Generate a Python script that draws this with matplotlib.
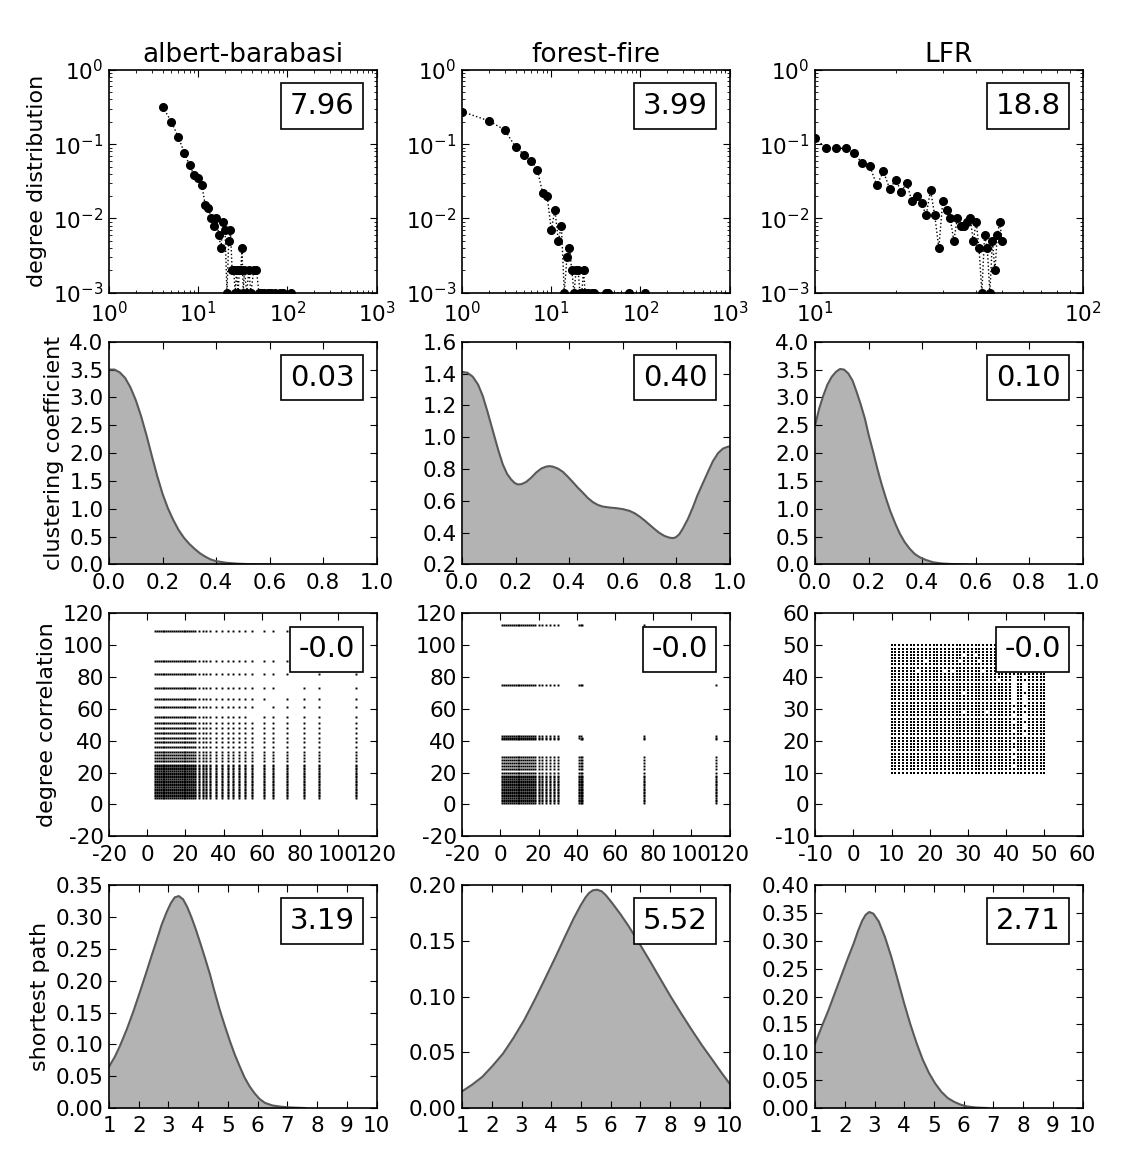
import matplotlib
matplotlib.use('Agg')
import matplotlib.pyplot as plt
import numpy as np
import matplotlib.ticker as ticker
from matplotlib.offsetbox import AnchoredText

# column titles and the mean values shown in the boxes
models = ['albert-barabasi', 'forest-fire', 'LFR']
row_labels = ['degree distribution', 'clustering coefficient', 'degree correlation', 'shortest path']
box_text = [['7.96', '3.99', '18.8'],
            ['0.03', '0.40', '0.10'],
            ['-0.0', '-0.0', '-0.0'],
            ['3.19', '5.52', '2.71']]

# degree distribution (node counts out of 1000)
ab_deg = [4, 5, 6, 7, 8, 9, 10, 11, 12, 13, 14, 15, 16, 17, 18, 19, 20, 21, 22, 23, 24, 25,
          26, 27, 28, 29, 30, 31, 32, 33, 35, 37, 39, 42, 45, 48, 51, 55, 61, 66, 73, 82, 90, 109]
ab_cnt = [320, 200, 124, 76, 52, 38, 35, 28, 15, 14, 10, 8, 10, 6, 4, 9, 7, 1, 5, 7, 2, 2,
          1, 2, 1, 2, 2, 4, 1, 2, 1, 2, 1, 2, 2, 1, 1, 1, 1, 1, 1, 1, 1, 1]
ff_deg = [1, 2, 3, 4, 5, 6, 7, 8, 9, 10, 11, 12, 13, 14, 15, 16, 17, 18, 19, 20, 21, 22,
          23, 24, 26, 29, 30, 41, 42, 43, 75, 113]
ff_cnt = [275, 206, 156, 91, 72, 60, 45, 22, 20, 7, 13, 5, 8, 1, 3, 4, 2, 1, 2, 2, 1, 1,
          2, 1, 1, 1, 1, 1, 1, 1, 1, 1]
lfr_deg = list(range(10, 51))
lfr_cnt = [120, 88, 88, 88, 76, 55, 51, 28, 43, 25, 33, 23, 30, 17, 20, 16, 11, 24, 11, 4, 17,
           13, 10, 5, 10, 8, 8, 9, 10, 5, 9, 4, 1, 6, 4, 1, 5, 2, 6, 9, 5]

# clustering coefficient density curves
ab_cc_x = [0.00, 0.02, 0.04, 0.06, 0.08, 0.10, 0.12, 0.14, 0.16, 0.18, 0.20, 0.22, 0.24,
           0.26, 0.28, 0.30, 0.32, 0.34, 0.36, 0.38, 0.40, 0.44, 0.48, 0.52, 0.56, 0.60]
ab_cc_y = [3.50, 3.50, 3.45, 3.35, 3.18, 2.95, 2.66, 2.32, 1.95, 1.59, 1.27, 1.01, 0.80,
           0.62, 0.48, 0.37, 0.28, 0.20, 0.14, 0.09, 0.06, 0.03, 0.015, 0.007, 0.003, 0.0]
ff_cc_x = [0.00, 0.02, 0.04, 0.06, 0.077, 0.095, 0.115, 0.135, 0.152, 0.168, 0.183, 0.196,
           0.208, 0.222, 0.239, 0.258, 0.277, 0.296, 0.314, 0.327, 0.339, 0.358, 0.377, 0.395,
           0.414, 0.432, 0.451, 0.47, 0.489, 0.508, 0.526, 0.551, 0.576, 0.601, 0.626, 0.645,
           0.663, 0.682, 0.70, 0.72, 0.738, 0.757, 0.776, 0.79, 0.80, 0.812, 0.825, 0.844,
           0.863, 0.88, 0.90, 0.92, 0.938, 0.957, 0.975, 0.99, 1.0]
ff_cc_y = [1.41, 1.405, 1.38, 1.33, 1.26, 1.16, 1.04, 0.92, 0.83, 0.77, 0.735, 0.713,
           0.703, 0.705, 0.718, 0.745, 0.778, 0.803, 0.815, 0.818, 0.815, 0.803, 0.782, 0.752,
           0.718, 0.684, 0.652, 0.618, 0.592, 0.574, 0.564, 0.558, 0.554, 0.548, 0.537, 0.522,
           0.502, 0.477, 0.451, 0.422, 0.398, 0.379, 0.368, 0.366, 0.372, 0.39, 0.425, 0.485,
           0.56, 0.635, 0.71, 0.785, 0.85, 0.9, 0.928, 0.938, 0.942]
lfr_cc_x = [0.0, 0.015, 0.031, 0.046, 0.062, 0.078, 0.093, 0.108, 0.124, 0.14, 0.155, 0.17,
            0.186, 0.2, 0.217, 0.232, 0.248, 0.264, 0.28, 0.3, 0.317, 0.335, 0.354, 0.372,
            0.391, 0.415, 0.441, 0.47, 0.503, 0.53, 0.565]
lfr_cc_y = [2.50, 2.80, 3.04, 3.23, 3.37, 3.46, 3.51, 3.50, 3.43, 3.30, 3.10, 2.88,
            2.62, 2.33, 2.02, 1.73, 1.45, 1.20, 0.97, 0.73, 0.55, 0.40, 0.28, 0.19,
            0.13, 0.08, 0.04, 0.02, 0.01, 0.004, 0.0]

# degree correlation: degrees that show up as rows/columns of the scatter
ab_low = list(range(4, 26)) + [27, 29, 31, 33, 36, 39, 42, 45, 48, 51]
ab_hub = [55, 61, 66, 73, 82, 90, 109]
ff_low = list(range(1, 19)) + [20, 22, 24, 26, 28, 30]
ff_hub = [41, 42, 43, 75, 113]
lfr_corr_deg = list(range(10, 51))
lfr_gap_x = [19, 17, 24, 26, 28, 29, 32, 33, 34, 29, 29, 35, 38,
             42, 42, 42, 42, 42, 42, 42, 42, 42, 42, 42, 42, 42, 42, 42, 42, 42,
             45, 45, 45, 45, 45, 45, 45, 45, 45, 45, 45, 45, 45]
lfr_gap_y = [45, 42, 42, 42, 45, 47, 47, 45, 42, 35, 29, 29, 39,
             12, 15, 17, 20, 23, 26, 28, 30, 32, 33, 34, 35, 36, 37, 38, 39, 40,
             22, 24, 25, 27, 28, 30, 32, 33, 34, 36, 37, 38, 40]

# shortest path length density curves
ab_sp_x = [1.0, 1.2, 1.37, 1.6, 1.82, 2.05, 2.26, 2.43, 2.60, 2.77, 2.94, 3.08, 3.21, 3.35,
           3.49, 3.63, 3.77, 3.91, 4.05, 4.22, 4.39, 4.55, 4.72, 4.89, 5.06, 5.23, 5.40,
           5.56, 5.73, 5.9, 6.07, 6.25, 6.5, 6.8, 7.07, 7.6]
ab_sp_y = [0.065, 0.081, 0.098, 0.124, 0.152, 0.184, 0.214, 0.239, 0.263, 0.288, 0.308,
           0.322, 0.331, 0.333, 0.328, 0.316, 0.300, 0.282, 0.262, 0.237, 0.211, 0.183,
           0.155, 0.130, 0.106, 0.084, 0.065, 0.048, 0.034, 0.023, 0.014, 0.008, 0.004,
           0.002, 0.001, 0.0]
ff_sp_x = [1.0, 1.34, 1.68, 2.03, 2.38, 2.73, 3.09, 3.44, 3.79, 4.15, 4.50, 4.75, 4.99,
           5.15, 5.27, 5.4, 5.55, 5.7, 5.84, 6.05, 6.33, 6.61, 6.96, 7.32, 7.67, 8.02,
           8.37, 8.73, 9.08, 9.43, 9.72, 10.0]
ff_sp_y = [0.015, 0.021, 0.028, 0.038, 0.049, 0.063, 0.079, 0.097, 0.116, 0.136, 0.156,
           0.170, 0.182, 0.189, 0.193, 0.1955, 0.196, 0.1945, 0.191, 0.184, 0.174, 0.163,
           0.148, 0.132, 0.116, 0.100, 0.085, 0.070, 0.056, 0.043, 0.032, 0.022]
lfr_sp_x = [1.0, 1.22, 1.45, 1.66, 1.87, 2.08, 2.30, 2.45, 2.58, 2.7, 2.82, 2.96, 3.14,
            3.35, 3.56, 3.78, 3.99, 4.2, 4.41, 4.62, 4.83, 5.04, 5.25, 5.46, 5.68, 5.9,
            6.10, 6.4, 6.80]
lfr_sp_y = [0.116, 0.146, 0.176, 0.206, 0.236, 0.266, 0.296, 0.319, 0.336, 0.347, 0.352,
            0.349, 0.335, 0.307, 0.272, 0.230, 0.189, 0.151, 0.117, 0.087, 0.063, 0.044,
            0.029, 0.018, 0.011, 0.006, 0.003, 0.001, 0.0]


def add_box(ax, txt):
    at = AnchoredText(txt, loc='upper right', prop=dict(size=21), pad=0.3, borderpad=0.45)
    at.patch.set_edgecolor('black')
    at.patch.set_linewidth(1.2)
    ax.add_artist(at)


def degree_plot(ax, deg, cnt, xlim):
    p = np.array(cnt) / 1000.0
    ax.loglog(deg, p, ':o', color='k', ms=5.5, mec='k', lw=1)
    ax.set_xlim(*xlim)
    ax.set_ylim(1e-3, 1)
    ax.xaxis.set_minor_formatter(ticker.NullFormatter())
    ax.yaxis.set_minor_formatter(ticker.NullFormatter())


def density_plot(ax, x, y, xlim, ylim, step_x, step_y):
    ax.fill_between(x, y, 0, color='0.7', lw=0)
    ax.plot(x, y, color='0.35', lw=1.5)
    ax.set_xlim(*xlim)
    ax.set_ylim(*ylim)
    ax.xaxis.set_major_locator(ticker.MultipleLocator(step_x))
    ax.yaxis.set_major_locator(ticker.MultipleLocator(step_y))


def pairs(low, hub):
    xs, ys = [], []
    allk = low + hub
    for a in allk:
        for b in allk:
            if a in hub and b in hub and a == b:
                continue
            xs.append(a)
            ys.append(b)
    return xs, ys


def corr_plot(ax, xs, ys, lim, step, ms):
    ax.plot(xs, ys, 's', color='k', ms=ms, mew=0)
    ax.set_xlim(*lim)
    ax.set_ylim(*lim)
    ax.xaxis.set_major_locator(ticker.MultipleLocator(step))
    ax.yaxis.set_major_locator(ticker.MultipleLocator(step))


def main():
    plt.rcParams['xtick.direction'] = 'in'
    plt.rcParams['ytick.direction'] = 'in'
    plt.rcParams['xtick.top'] = True
    plt.rcParams['ytick.right'] = True
    plt.rcParams['xtick.major.size'] = 5
    plt.rcParams['ytick.major.size'] = 5
    plt.rcParams['xtick.minor.size'] = 2.5
    plt.rcParams['ytick.minor.size'] = 2.5
    plt.rcParams['xtick.major.pad'] = 6
    plt.rcParams['ytick.major.pad'] = 4
    plt.rcParams['xtick.labelsize'] = 15.5
    plt.rcParams['ytick.labelsize'] = 15.5
    plt.rcParams['axes.linewidth'] = 1.2
    plt.rcParams['axes.unicode_minus'] = False

    fig, axes = plt.subplots(4, 3, figsize=(11.36, 11.6))
    fig.subplots_adjust(left=0.096, right=0.953, top=0.9397, bottom=0.0448,
                        wspace=0.32, hspace=0.22)

    degree_plot(axes[0, 0], ab_deg, ab_cnt, (1, 1000))
    degree_plot(axes[0, 1], ff_deg, ff_cnt, (1, 1000))
    degree_plot(axes[0, 2], lfr_deg, lfr_cnt, (10, 100))

    density_plot(axes[1, 0], ab_cc_x, ab_cc_y, (0, 1), (0, 4), 0.2, 0.5)
    density_plot(axes[1, 1], ff_cc_x, ff_cc_y, (0, 1), (0.2, 1.6), 0.2, 0.2)
    density_plot(axes[1, 2], lfr_cc_x, lfr_cc_y, (0, 1), (0, 4), 0.2, 0.5)

    x, y = pairs(ab_low, ab_hub)
    corr_plot(axes[2, 0], x, y, (-20, 120), 20, 1.4)
    x, y = pairs(ff_low, ff_hub)
    corr_plot(axes[2, 1], x, y, (-20, 120), 20, 1.4)
    gaps = set(zip(lfr_gap_x, lfr_gap_y))
    lx = [a for a in lfr_corr_deg for b in lfr_corr_deg if (a, b) not in gaps]
    ly = [b for a in lfr_corr_deg for b in lfr_corr_deg if (a, b) not in gaps]
    corr_plot(axes[2, 2], lx, ly, (-10, 60), 10, 1.7)

    density_plot(axes[3, 0], ab_sp_x, ab_sp_y, (1, 10), (0, 0.35), 1, 0.05)
    density_plot(axes[3, 1], ff_sp_x, ff_sp_y, (1, 10), (0, 0.20), 1, 0.05)
    density_plot(axes[3, 2], lfr_sp_x, lfr_sp_y, (1, 10), (0, 0.40), 1, 0.05)

    for j in range(3):
        axes[0, j].set_title(models[j], fontsize=19)
    for i in range(4):
        axes[i, 0].set_ylabel(row_labels[i], fontsize=16)
        for j in range(3):
            add_box(axes[i, j], box_text[i][j])

    fig.savefig('out.png', dpi=100, facecolor='white')


if __name__ == '__main__':
    main()
